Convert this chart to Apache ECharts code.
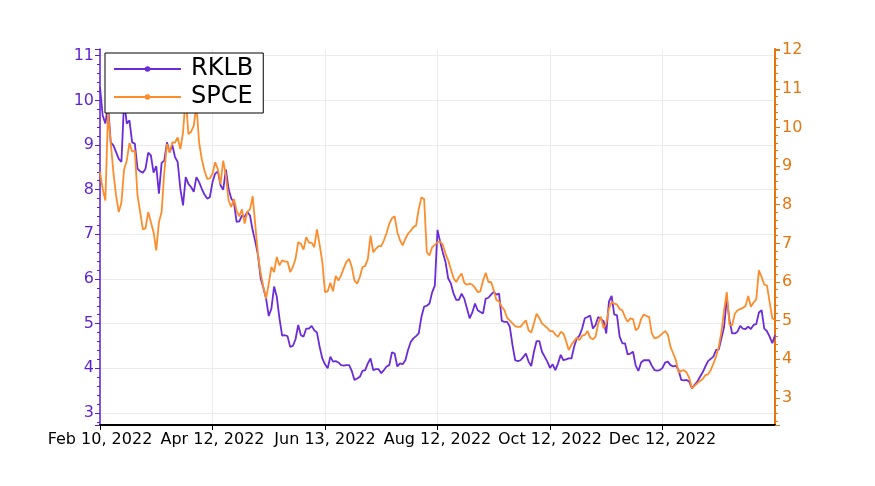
<!DOCTYPE html>
<html>
<head>
<meta charset="utf-8">
<script src="https://cdn.jsdelivr.net/npm/echarts@6/dist/echarts.min.js"></script>
<style>
  html, body { margin: 0; padding: 0; background: #fff; }
  #chart { width: 875px; height: 486px; }
</style>
</head>
<body>
<div id="chart"></div>
<script>
// daily closes, one value per trading day from Feb 10, 2022
var rklb = [
  10.3, 9.66, 9.48, 9.9, 9.06, 8.99, 8.84, 8.69, 8.62, 10.0,
  9.48, 9.55, 9.06, 9.03, 8.47, 8.41, 8.38, 8.47, 8.83, 8.77,
  8.38, 8.53, 7.91, 8.6, 8.65, 9.06, 8.84, 9.0, 8.73, 8.62,
  8.02, 7.65, 8.28, 8.13, 8.06, 7.95, 8.28, 8.17, 8.02, 7.89,
  7.8, 7.83, 8.17, 8.36, 8.41, 8.1, 8.0, 8.45, 8.02, 7.8,
  7.72, 7.28, 7.29, 7.42, 7.39, 7.5, 7.42, 7.09, 6.83, 6.53,
  6.01, 5.8, 5.56, 5.17, 5.34, 5.83, 5.6, 5.12, 4.73, 4.74,
  4.72, 4.48, 4.5, 4.65, 4.97, 4.74, 4.71, 4.89, 4.89, 4.95,
  4.85, 4.8, 4.48, 4.22, 4.09, 4.0, 4.26, 4.15, 4.16, 4.13,
  4.07, 4.06, 4.07, 4.07, 3.94, 3.74, 3.77, 3.81, 3.94, 3.96,
  4.11, 4.22, 3.96, 3.98, 3.98, 3.89, 3.96, 4.04, 4.07, 4.36,
  4.33, 4.04, 4.11, 4.09, 4.18, 4.41, 4.59, 4.67, 4.72, 4.78,
  5.15, 5.38, 5.4, 5.45, 5.7, 5.85, 7.1, 6.83, 6.59, 6.38,
  6.01, 5.9, 5.67, 5.53, 5.53, 5.67, 5.56, 5.34, 5.12, 5.25,
  5.45, 5.3, 5.26, 5.23, 5.56, 5.58, 5.65, 5.71, 5.65, 5.67,
  5.06, 5.04, 5.04, 4.93, 4.52, 4.18, 4.16, 4.18, 4.25, 4.33,
  4.15, 4.05, 4.37, 4.61, 4.61, 4.37, 4.26, 4.15, 4.01, 4.09,
  3.96, 4.11, 4.3, 4.18, 4.2, 4.22, 4.22, 4.48, 4.67, 4.73,
  4.89, 5.12, 5.15, 5.18, 4.89, 4.97, 5.15, 5.1, 5.06, 4.78,
  5.49, 5.62, 5.2, 5.19, 4.71, 4.56, 4.56, 4.31, 4.33, 4.37,
  4.06, 3.94, 4.13, 4.18, 4.18, 4.18, 4.06, 3.96, 3.95, 3.96,
  4.01, 4.13, 4.15, 4.07, 4.04, 4.06, 3.96, 3.74, 3.73, 3.74,
  3.7, 3.55, 3.63, 3.7, 3.81, 3.91, 4.04, 4.16, 4.21, 4.26,
  4.41, 4.42, 4.67, 4.93, 5.56, 5.08, 4.78, 4.78, 4.82, 4.95,
  4.89, 4.88, 4.93, 4.88, 4.97, 4.99, 5.25, 5.3, 4.89, 4.83,
  4.71, 4.56, 4.74
];
var spce = [
  8.85, 8.41, 8.11, 10.39, 9.61, 8.84, 8.24, 7.81, 8.06, 8.92,
  9.14, 9.6, 9.37, 9.4, 8.24, 7.81, 7.36, 7.39, 7.81, 7.55,
  7.29, 6.82, 7.55, 7.81, 8.84, 9.57, 9.35, 9.61, 9.61, 9.74,
  9.44, 9.87, 10.8, 9.83, 9.89, 10.04, 10.6, 9.61, 9.18, 8.88,
  8.67, 8.68, 8.8, 9.1, 8.92, 8.54, 9.14, 8.75, 8.11, 7.94,
  8.15, 7.85, 7.7, 7.88, 7.51, 7.82, 7.88, 8.22, 7.46, 6.69,
  6.22, 5.87, 5.57, 5.96, 6.39, 6.26, 6.65, 6.43, 6.56, 6.53,
  6.53, 6.26, 6.39, 6.6, 7.03, 6.99, 6.84, 7.16, 7.02, 7.02,
  6.9, 7.36, 6.96, 6.52, 5.74, 5.76, 5.98, 5.76, 6.16, 6.04,
  6.17, 6.36, 6.52, 6.6, 6.39, 6.04, 5.96, 6.13, 6.39, 6.41,
  6.6, 7.2, 6.77, 6.86, 6.93, 6.93, 7.08, 7.27, 7.51, 7.65,
  7.7, 7.29, 7.08, 6.95, 7.12, 7.25, 7.33, 7.42, 7.46, 7.89,
  8.19, 8.15, 6.77, 6.69, 6.9, 6.96, 7.03, 7.05, 6.96, 6.73,
  6.56, 6.33, 6.1, 6.0, 6.13, 6.22, 5.98, 5.93, 5.96, 5.93,
  5.85, 5.74, 5.76, 6.04, 6.24, 6.0, 6.0, 5.79, 5.53, 5.5,
  5.36, 5.27, 5.07, 5.0, 4.93, 4.86, 4.84, 4.84, 4.93, 5.01,
  4.75, 4.69, 4.93, 5.18, 5.07, 4.93, 4.87, 4.81, 4.73, 4.73,
  4.64, 4.58, 4.71, 4.67, 4.47, 4.24, 4.38, 4.47, 4.56, 4.5,
  4.61, 4.63, 4.73, 4.56, 4.52, 4.58, 4.93, 5.1, 4.8, 4.93,
  5.31, 5.48, 5.44, 5.42, 5.3, 5.27, 5.1, 4.97, 5.06, 5.04,
  4.75, 4.81, 5.04, 5.16, 5.12, 5.1, 4.67, 4.54, 4.56, 4.61,
  4.67, 4.73, 4.64, 4.32, 4.15, 3.98, 3.66, 3.7, 3.72, 3.66,
  3.51, 3.25, 3.32, 3.38, 3.44, 3.49, 3.59, 3.61, 3.72, 3.89,
  4.07, 4.32, 4.71, 5.27, 5.74, 4.9, 4.88, 5.18, 5.27, 5.3,
  5.33, 5.38, 5.64, 5.36, 5.47, 5.55, 6.3, 6.13, 5.93, 5.91,
  5.48, 5.06, 5.01
];
// market holidays skipped when building the trading-day categories
var holidays = ['2022-02-21', '2022-04-15', '2022-05-30', '2022-06-20', '2022-07-04',
  '2022-09-05', '2022-11-24', '2022-12-26', '2023-01-02', '2023-01-16'];
var monthNames = ['Jan', 'Feb', 'Mar', 'Apr', 'May', 'Jun', 'Jul', 'Aug', 'Sep', 'Oct', 'Nov', 'Dec'];

var dates = [];
var d = new Date(Date.UTC(2022, 1, 10));
while (dates.length < rklb.length) {
  var iso = d.toISOString().slice(0, 10);
  var wd = d.getUTCDay();
  if (wd !== 0 && wd !== 6 && holidays.indexOf(iso) < 0) {
    dates.push(monthNames[d.getUTCMonth()] + ' ' + d.getUTCDate() + ', ' + d.getUTCFullYear());
  }
  d.setUTCDate(d.getUTCDate() + 1);
}

var purple = '#6b2bd9';
var purpleAxis = '#5f1fcf';
var orange = '#fd8d2c';
var orangeAxis = '#e5760f';
var font = 'DejaVu Sans';
var grid = '#ebebeb';
var none = 'rgba(0,0,0,0)';

function everyTick(i) {
  return i % 42 === 0 && i < 252;
}
function intLabel(v) {
  return Math.abs(v - Math.round(v)) < 1e-6 ? String(Math.round(v)) : '';
}

var myChart = echarts.init(document.getElementById('chart'), null, { renderer: 'canvas' });
var option = {
  animation: false,
  backgroundColor: '#fff',
  grid: {
    left: 100,
    right: 100,
    top: 49,
    bottom: 61,
    containLabel: false
  },
  legend: {
    orient: 'vertical',
    left: 105,
    top: 53,
    backgroundColor: '#fff',
    borderColor: '#000',
    borderWidth: 1,
    borderRadius: 0,
    padding: [2, 10, 2, 8],
    itemGap: 0,
    itemWidth: 67,
    itemHeight: 7,
    textStyle: {
      color: '#000',
      fontSize: 24,
      fontFamily: font,
      lineHeight: 28,
      padding: [0, 0, 0, 5]
    },
    data: ['RKLB', 'SPCE']
  },
  xAxis: {
    type: 'category',
    data: dates,
    boundaryGap: false,
    axisLine: { lineStyle: { color: '#000', width: 2 } },
    axisTick: { interval: everyTick, length: 5, lineStyle: { color: '#000' } },
    axisLabel: {
      interval: everyTick,
      color: '#000',
      fontSize: 16,
      fontFamily: font,
      margin: 7
    },
    splitLine: {
      show: true,
      interval: everyTick,
      lineStyle: { color: grid, width: 1 }
    }
  },
  yAxis: [{
    type: 'value',
    position: 'left',
    min: 2.73,
    max: 11.15,
    splitNumber: 8,
    axisLine: { show: true, lineStyle: { color: purpleAxis, width: 1.5 } },
    axisTick: { show: true, length: 5, lineStyle: { color: purpleAxis } },
    minorTick: { show: true, splitNumber: 5, length: 3, lineStyle: { color: purpleAxis } },
    axisLabel: {
      color: purpleAxis,
      fontSize: 16,
      fontFamily: font,
      margin: 6,
      formatter: intLabel
    },
    splitLine: {
      show: true,
      lineStyle: { color: [none, grid, grid, grid, grid, grid, grid, grid, grid, grid, none], width: 1 }
    }
  }, {
    type: 'value',
    position: 'right',
    min: 2.3,
    max: 12.03,
    splitNumber: 10,
    axisLine: { show: true, lineStyle: { color: orangeAxis, width: 2 } },
    axisTick: { show: true, length: 5, lineStyle: { color: orangeAxis } },
    minorTick: { show: true, splitNumber: 5, length: 3, lineStyle: { color: orangeAxis } },
    axisLabel: {
      color: orangeAxis,
      fontSize: 16,
      fontFamily: font,
      margin: 7,
      formatter: intLabel
    },
    splitLine: { show: false }
  }],
  series: [{
    name: 'RKLB',
    type: 'line',
    data: rklb,
    yAxisIndex: 0,
    showSymbol: false,
    symbol: 'circle',
    symbolSize: 5,
    color: purple,
    lineStyle: { width: 1.8, color: purple }
  }, {
    name: 'SPCE',
    type: 'line',
    data: spce,
    yAxisIndex: 1,
    showSymbol: false,
    symbol: 'circle',
    symbolSize: 5,
    color: orange,
    lineStyle: { width: 1.8, color: orange }
  }]
};
myChart.setOption(option);
</script>
</body>
</html>
